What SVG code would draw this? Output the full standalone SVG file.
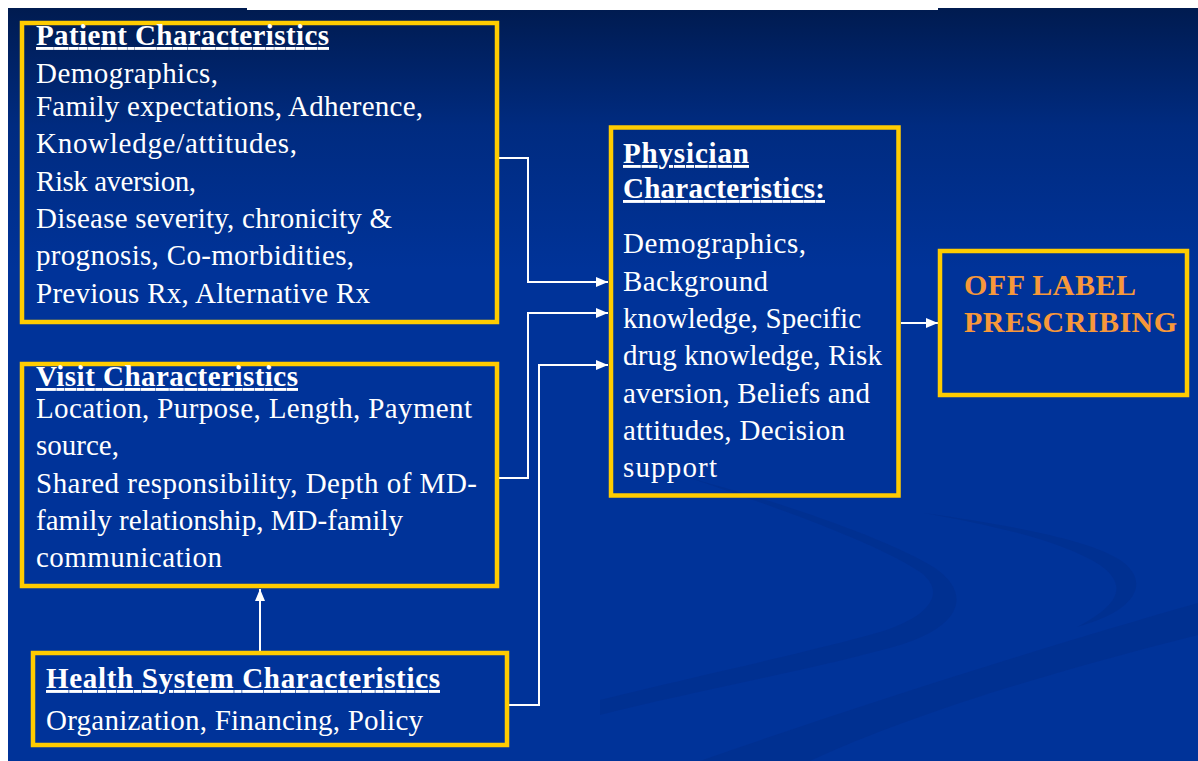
<svg xmlns="http://www.w3.org/2000/svg" width="1198" height="761" viewBox="0 0 1198 761">
  <defs>
    <linearGradient id="bg" gradientUnits="userSpaceOnUse" x1="0" y1="8" x2="0" y2="270">
      <stop offset="0" stop-color="#001b50"/>
      <stop offset="0.45" stop-color="#002b80"/>
      <stop offset="1" stop-color="#003399"/>
    </linearGradient>
    <marker id="arrow" viewBox="0 0 12 10" refX="12" refY="5" markerWidth="12" markerHeight="10" markerUnits="userSpaceOnUse" orient="auto">
      <path d="M0,0 L12,5 L0,10 z" fill="#ffffff"/>
    </marker>
    <style>
      .box { fill: none; stroke: #ffcc00; stroke-width: 4.5; }
      .t { font-family: "Liberation Serif", "Times New Roman", serif; font-size: 29px; fill: #ffffff; }
      .h { font-family: "Liberation Serif", "Times New Roman", serif; font-size: 29px; font-weight: bold; fill: #ffffff; text-decoration: underline; }
      .o { font-family: "Liberation Serif", "Times New Roman", serif; font-size: 30px; font-weight: bold; fill: #f7983a; }
      .conn { fill: none; stroke: #ffffff; stroke-width: 2; }
      .sw { fill: #00287a; opacity: 0.25; }
    </style>
  </defs>

  <rect x="0" y="0" width="1198" height="761" fill="#ffffff"/>
  <path d="M8,8 H247 V10 H938 V8 H1198 V761 H8 Z" fill="url(#bg)"/>

  <g id="background-swooshes">
    <path class="sw" d="M690,478 C790,505 890,540 935,568 C970,592 965,625 900,645 C820,668 700,690 600,715 L600,700 C700,675 810,652 880,632 C935,615 945,590 920,572 C880,545 790,512 690,478 Z"/>
    <path class="sw" d="M924,513 C1010,525 1090,540 1120,560 C1150,580 1140,610 1077,627 C1120,605 1128,585 1100,565 C1060,540 990,525 924,513 Z"/>
    <path class="sw" d="M700,761 C860,705 1050,645 1198,603 L1198,635 C1050,672 910,715 810,761 Z"/>
  </g>

  <g id="connectors">
    <path class="conn" d="M499,158 H528 V282 H608" marker-end="url(#arrow)"/>
    <path class="conn" d="M499,478 H528 V313 H608" marker-end="url(#arrow)"/>
    <path class="conn" d="M509,705 H539 V365 H608" marker-end="url(#arrow)"/>
    <path class="conn" d="M260,651 V589" marker-end="url(#arrow)"/>
    <path class="conn" d="M901,323 H938" marker-end="url(#arrow)"/>
  </g>

  <g id="patient">
    <rect class="box" x="22" y="23" width="475" height="299"/>
    <text class="h" x="36" y="45" textLength="293">Patient Characteristics</text>
    <text class="t" x="36" y="83" textLength="182">Demographics,</text>
    <text class="t" x="36" y="116" textLength="387">Family expectations, Adherence,</text>
    <text class="t" x="36" y="153" textLength="261">Knowledge/attitudes,</text>
    <text class="t" x="36" y="191" textLength="160">Risk aversion,</text>
    <text class="t" x="36" y="228" textLength="356">Disease severity, chronicity &amp;</text>
    <text class="t" x="36" y="265" textLength="318">prognosis, Co-morbidities,</text>
    <text class="t" x="36" y="303" textLength="334">Previous Rx, Alternative Rx</text>
  </g>

  <g id="visit">
    <rect class="box" x="22" y="364" width="475" height="222"/>
    <text class="h" x="36" y="386" textLength="262">Visit Characteristics</text>
    <text class="t" x="36" y="418" textLength="436">Location, Purpose, Length, Payment</text>
    <text class="t" x="36" y="455">source,</text>
    <text class="t" x="36" y="493" textLength="441">Shared responsibility, Depth of  MD-</text>
    <text class="t" x="36" y="530" textLength="367">family relationship, MD-family</text>
    <text class="t" x="36" y="567" textLength="186">communication</text>
  </g>

  <g id="health">
    <rect class="box" x="33" y="653" width="474" height="92"/>
    <text class="h" x="46" y="688" textLength="394">Health System Characteristics</text>
    <text class="t" x="46" y="730" textLength="377">Organization, Financing, Policy</text>
  </g>

  <g id="physician">
    <rect class="box" x="611" y="127.5" width="287.5" height="368"/>
    <text class="h" x="623" y="163" textLength="126">Physician</text>
    <text class="h" x="623" y="198" textLength="202">Characteristics:</text>
    <text class="t" x="623" y="253" textLength="183">Demographics,</text>
    <text class="t" x="623" y="291" textLength="145">Background</text>
    <text class="t" x="623" y="328" textLength="238">knowledge, Specific</text>
    <text class="t" x="623" y="365" textLength="259">drug knowledge, Risk</text>
    <text class="t" x="623" y="403" textLength="247">aversion, Beliefs and</text>
    <text class="t" x="623" y="440" textLength="222">attitudes, Decision</text>
    <text class="t" x="623" y="477" textLength="94">support</text>
  </g>

  <g id="off-label">
    <rect class="box" x="940" y="251" width="247" height="144"/>
    <text class="o" x="964" y="295" textLength="172">OFF LABEL</text>
    <text class="o" x="964" y="332" textLength="213">PRESCRIBING</text>
  </g>
</svg>
